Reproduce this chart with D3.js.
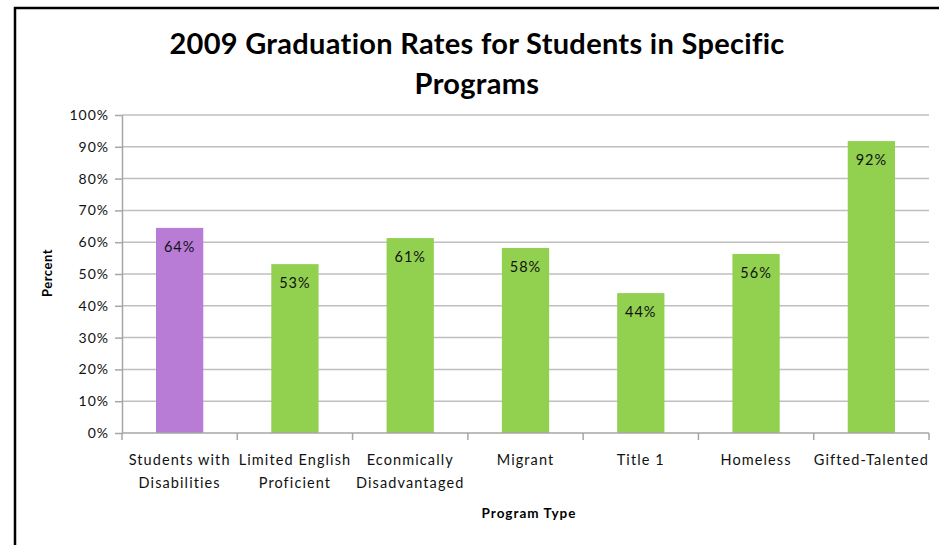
<!DOCTYPE html>
<html><head><meta charset="utf-8">
<script src="https://cdn.jsdelivr.net/npm/d3@7"></script>
<style>body{margin:0;background:#fff}svg{display:block}text{font-variant-ligatures:none}</style>
</head><body>
<script>
const categories = [["Students with","Disabilities"],["Limited English","Proficient"],["Econmically","Disadvantaged"],["Migrant"],["Title 1"],["Homeless"],["Gifted-Talented"]];
const values = [64.5, 53.1, 61.3, 58.2, 44.0, 56.3, 91.8];
const valueLabels = ["64%","53%","61%","58%","44%","56%","92%"];
const barColors = ["#b97cd6","#92d050","#92d050","#92d050","#92d050","#92d050","#92d050"];
const yTicks = [0,10,20,30,40,50,60,70,80,90,100];
const titleLines = ["2009 Graduation Rates for Students in Specific","Programs"];

const W=939,H=545;
const font="Lato, 'Open Sans', sans-serif";
const svg=d3.select("body").append("svg").attr("width",W).attr("height",H);
// frame
svg.append("rect").attr("x",15).attr("y",8).attr("width",W+20).attr("height",H+20)
  .attr("fill","none").attr("stroke","#000").attr("stroke-width",2.5);

const m={l:122,r:929,t:115,b:433};
const x=d3.scaleBand().domain(d3.range(categories.length)).range([m.l,m.r]).paddingInner(0.59).paddingOuter(0.295);
const y=d3.scaleLinear().domain([0,100]).range([m.b,m.t]);

// gridlines
svg.append("g").selectAll("line").data(yTicks.filter(d=>d>0)).join("line")
  .attr("x1",m.l).attr("x2",m.r).attr("y1",d=>y(d)).attr("y2",d=>y(d))
  .attr("stroke","#bfbfbf").attr("stroke-width",1.5);

// y axis
const ya=svg.append("g").attr("transform",`translate(${m.l},0)`)
  .call(d3.axisLeft(y).tickValues(yTicks).tickFormat(d=>d+"%").tickSize(7).tickSizeOuter(0));
ya.select(".domain").attr("stroke","#a6a6a6").attr("stroke-width",1.5);
ya.selectAll(".tick line").attr("stroke","#a6a6a6").attr("stroke-width",1.5);
ya.selectAll("text").attr("font-family",font).attr("font-size",14).attr("letter-spacing",1).attr("fill","#111").attr("x",-13);

// bars
svg.append("g").selectAll("rect").data(values).join("rect")
  .attr("x",(d,i)=>x(i)).attr("width",x.bandwidth())
  .attr("y",d=>y(d)).attr("height",d=>y(0)-y(d))
  .attr("fill",(d,i)=>barColors[i]);

// value labels
svg.append("g").selectAll("text").data(values).join("text")
  .attr("x",(d,i)=>x(i)+x.bandwidth()/2).attr("y",d=>y(d)+24)
  .attr("text-anchor","middle").attr("font-family",font).attr("font-size",14.5).attr("letter-spacing",1).attr("fill","#111")
  .text((d,i)=>valueLabels[i]);

// x axis
const step=(m.r-m.l)/categories.length;
const xa=svg.append("g");
xa.append("line").attr("x1",m.l).attr("x2",m.r).attr("y1",m.b).attr("y2",m.b).attr("stroke","#a6a6a6").attr("stroke-width",1.5);
xa.selectAll("line.t").data(d3.range(categories.length+1)).join("line").attr("class","t")
  .attr("x1",i=>m.l+i*step).attr("x2",i=>m.l+i*step).attr("y1",m.b).attr("y2",m.b+7)
  .attr("stroke","#a6a6a6").attr("stroke-width",1.5);
xa.selectAll("text").data(categories).join("text")
  .attr("text-anchor","middle").attr("font-family",font).attr("font-size",14.5).attr("letter-spacing",1.1).attr("fill","#111")
  .attr("transform",(d,i)=>`translate(${x(i)+x.bandwidth()/2},465)`)
  .each(function(d){d3.select(this).selectAll("tspan").data(d).join("tspan").attr("x",0).attr("y",(t,j)=>j*23).text(t=>t);});

// titles
svg.append("g").selectAll("text").data(titleLines).join("text")
  .attr("x",477).attr("y",(d,i)=>54+i*40).attr("text-anchor","middle")
  .attr("font-family",font).attr("font-weight","bold").attr("font-size",29).attr("letter-spacing",0.3).attr("fill","#000").text(d=>d);

svg.append("text").attr("transform","translate(52,273) rotate(-90)").attr("text-anchor","middle")
  .attr("font-family",font).attr("font-weight","bold").attr("font-size",13).attr("letter-spacing",0.5).text("Percent");
svg.append("text").attr("x",529).attr("y",518).attr("text-anchor","middle")
  .attr("font-family",font).attr("font-weight","bold").attr("font-size",13.5).attr("letter-spacing",1).text("Program Type");
</script>
</body></html>
